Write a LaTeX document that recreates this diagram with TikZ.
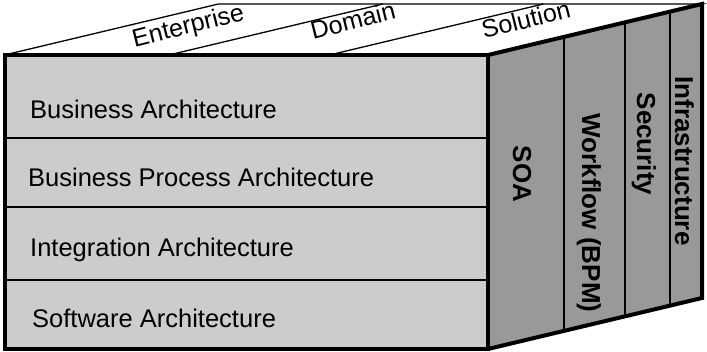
\documentclass[tikz,border=0pt]{standalone}
\usepackage{fontspec}
\setmainfont{Liberation Sans}
\usetikzlibrary{calc}
\definecolor{frontGray}{rgb}{0.8,0.8,0.8}
\definecolor{sideGray}{rgb}{0.6,0.6,0.6}

\begin{document}
\begin{tikzpicture}[x=1pt,y=-1pt,
    edge/.style={line width=4pt,line join=miter},
    seam/.style={line width=1.3pt},
    rowlabel/.style={anchor=base west,inner sep=0pt,font=\fontsize{25.5}{30}\selectfont},
    toplabel/.style={anchor=base,inner sep=0pt,rotate=14,font=\fontsize{25}{30}\selectfont},
    sidelabel/.style={anchor=base,inner sep=0pt,rotate=-90,font=\fontsize{26}{30}\selectfont\bfseries}]
    \useasboundingbox (0,0) rectangle (707,352);
    \def\xl{4.5} \def\xr{488}
    \def\yt{55} \def\yb{349}
    \def\dx{214} \def\dy{-51}

    \coordinate (FTL) at (\xl,\yt);
    \coordinate (FTR) at (\xr,\yt);
    \coordinate (FBR) at (\xr,\yb);
    \coordinate (BTL) at ($(FTL)+(\dx,\dy)$);
    \coordinate (BTR) at ($(FTR)+(\dx,\dy)$);
    \coordinate (BBR) at ($(FBR)+(\dx,\dy)$);

    % top face, split in three strips
    \filldraw [fill=white,seam] (FTL) -- (BTL) -- (BTR) -- (FTR);
    \foreach \t in {0.34,0.672}
      \draw [seam] ($(FTL)!\t!(FTR)$) -- ++(\dx,\dy);
    \node[toplabel] (enterprise) at (190,33.5) {Enterprise};
    \node[toplabel] (domain) at (355,29) {Domain};
    \node[toplabel] (solution) at (528,28) {Solution};

    % side face with its columns
    \fill [sideGray] (FTR) -- (BTR) -- (BBR) -- (FBR) -- cycle;
    \foreach \t in {0.355,0.64,0.85}
      \draw [seam] ($(FTR)!\t!(BTR)$) -- ($(FBR)!\t!(BBR)$);
    \draw [edge] (FTR) -- (BTR) -- (BBR) -- (FBR);
    \node[sidelabel] (soa) at (513,174) {SOA};
    \node[sidelabel] (workflow) at (582,213) {Workflow (BPM)};
    \node[sidelabel] (security) at (637,144) {Security};
    \node[sidelabel] (infra) at (675,161) {Infrastructure};

    % front face with the four layers
    \fill [frontGray] (FTL) rectangle (FBR);
    \foreach \y in {138,207,280}
      \draw [seam] (\xl,\y) -- (\xr,\y);
    \draw [edge] (FTL) rectangle (FBR);
    \node[rowlabel] (business) at (30,119) {Business Architecture};
    \node[rowlabel] (process) at (28,187) {Business Process Architecture};
    \node[rowlabel] (integration) at (30,257) {Integration Architecture};
    \node[rowlabel] (software) at (32,328) {Software Architecture};
\end{tikzpicture}
\end{document}
